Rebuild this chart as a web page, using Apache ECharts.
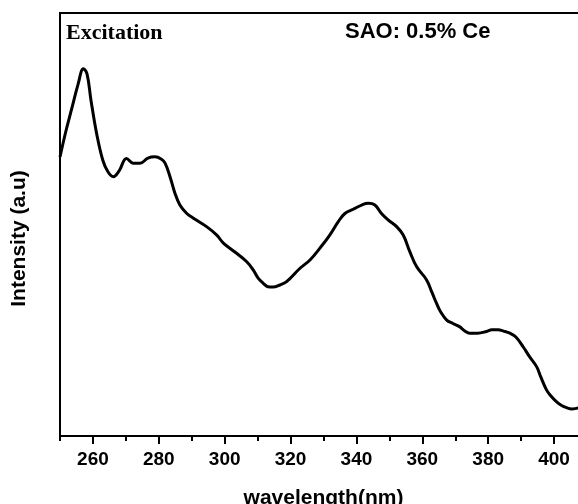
<!DOCTYPE html>
<html>
<head>
<meta charset="utf-8">
<script src="https://cdn.jsdelivr.net/npm/echarts@6/dist/echarts.min.js"></script>
<style>html,body{margin:0;padding:0;background:#fff;}#c{width:578px;height:504px;}</style>
</head>
<body>
<div id="c"></div>
<script>
const wavelength = [250.0,251.8,253.6,255.5,257.1,258.2,259.4,261.1,263.0,264.6,266.2,267.9,270.2,272.2,274.3,276.7,278.8,280.7,281.9,283.4,284.9,286.4,288.5,290.5,294.5,297.6,299.6,303.1,306.7,308.7,310.1,311.7,313.1,314.7,316.8,318.8,322.8,325.9,328.9,331.9,334.5,336.5,339.0,341.6,343.6,345.6,347.6,349.6,352.2,354.2,356.2,358.3,361.3,362.9,364.3,365.6,367.4,369.3,371.4,372.9,374.4,376.8,379.5,381.1,383.0,384.7,386.6,388.4,390.6,392.6,394.7,396.0,397.7,399.0,400.7,402.3,403.8,405.4,407.2,409.0];
const intensity = [65.96,72.1,77.5,83.2,86.8,85.6,79.4,71.6,65.2,62.4,61.3,62.6,65.6,64.5,64.5,65.7,66.0,65.5,64.5,61.3,57.4,54.6,52.6,51.5,49.5,47.5,45.6,43.5,41.2,39.2,37.4,36.1,35.3,35.2,35.7,36.5,39.6,41.6,44.4,47.5,50.7,52.6,53.6,54.6,55.0,54.6,52.6,51.1,49.5,47.5,43.6,40.0,36.9,34.0,31.4,29.3,27.4,26.6,25.8,24.8,24.3,24.3,24.7,25.1,25.1,24.8,24.3,23.4,21.1,18.7,16.4,13.9,10.9,9.5,8.1,7.2,6.7,6.4,6.6,7.6];
const majorTicks = [260,280,300,320,340,360,380,400];
const minorTicks = [250,270,290,310,330,350,370,390,410];
const xName = 'wavelength(nm)';
const yName = 'Intensity (a.u)';
const leftLabel = 'Excitation';
const rightLabel = 'SAO: 0.5% Ce';

const sans = '"Liberation Sans", Arial, sans-serif';
const serif = '"Liberation Serif", "Times New Roman", serif';
const chart = echarts.init(document.getElementById('c'), null, {renderer: 'canvas'});
const pts = wavelength.map((w, i) => [w, intensity[i]]);
chart.setOption({
  animation: false,
  backgroundColor: '#fff',
  grid: {left: 60, top: 13, width: 527, height: 423, show: true, borderColor: '#000', borderWidth: 2, backgroundColor: 'transparent', containLabel: false, outerBoundsMode: 'none'},
  xAxis: [{
    type: 'value', min: 250, max: 410,
    name: xName, nameLocation: 'middle', nameGap: 52,
    nameTextStyle: {fontFamily: sans, fontWeight: 'bold', fontSize: 21, color: '#000'},
    axisLine: {show: true, lineStyle: {color: '#000', width: 2}},
    axisTick: {show: true, customValues: majorTicks, length: 8, lineStyle: {color: '#000', width: 2}},
    axisLabel: {customValues: majorTicks, fontFamily: sans, fontWeight: 'bold', fontSize: 19, color: '#000', margin: 14},
    splitLine: {show: false}
  }, {
    type: 'value', min: 250, max: 410, position: 'bottom', gridIndex: 0,
    axisLine: {show: false},
    axisTick: {show: true, customValues: minorTicks, length: 5, lineStyle: {color: '#000', width: 2}},
    axisLabel: {show: false},
    splitLine: {show: false}
  }],
  yAxis: {
    type: 'value', min: 0, max: 100,
    name: yName, nameLocation: 'middle', nameGap: 30,
    nameTextStyle: {fontFamily: sans, fontWeight: 'bold', fontSize: 21, color: '#000', padding: [0, 28, 0, 0]},
    axisLine: {show: true, lineStyle: {color: '#000', width: 2}},
    axisTick: {show: false},
    axisLabel: {show: false},
    splitLine: {show: false}
  },
  series: [{
    type: 'line', xAxisIndex: 0, data: pts, showSymbol: false, smooth: 0.4,
    lineStyle: {color: '#000', width: 3}, clip: true
  }],
  graphic: [
    {type: 'text', left: 66, top: 22, style: {text: leftLabel, fontFamily: serif, fontWeight: 'bold', fontSize: 22, fill: '#000'}},
    {type: 'text', left: 345, top: 21, style: {text: rightLabel, fontFamily: sans, fontWeight: 'bold', fontSize: 22, fill: '#000'}}
  ]
});
</script>
</body>
</html>
